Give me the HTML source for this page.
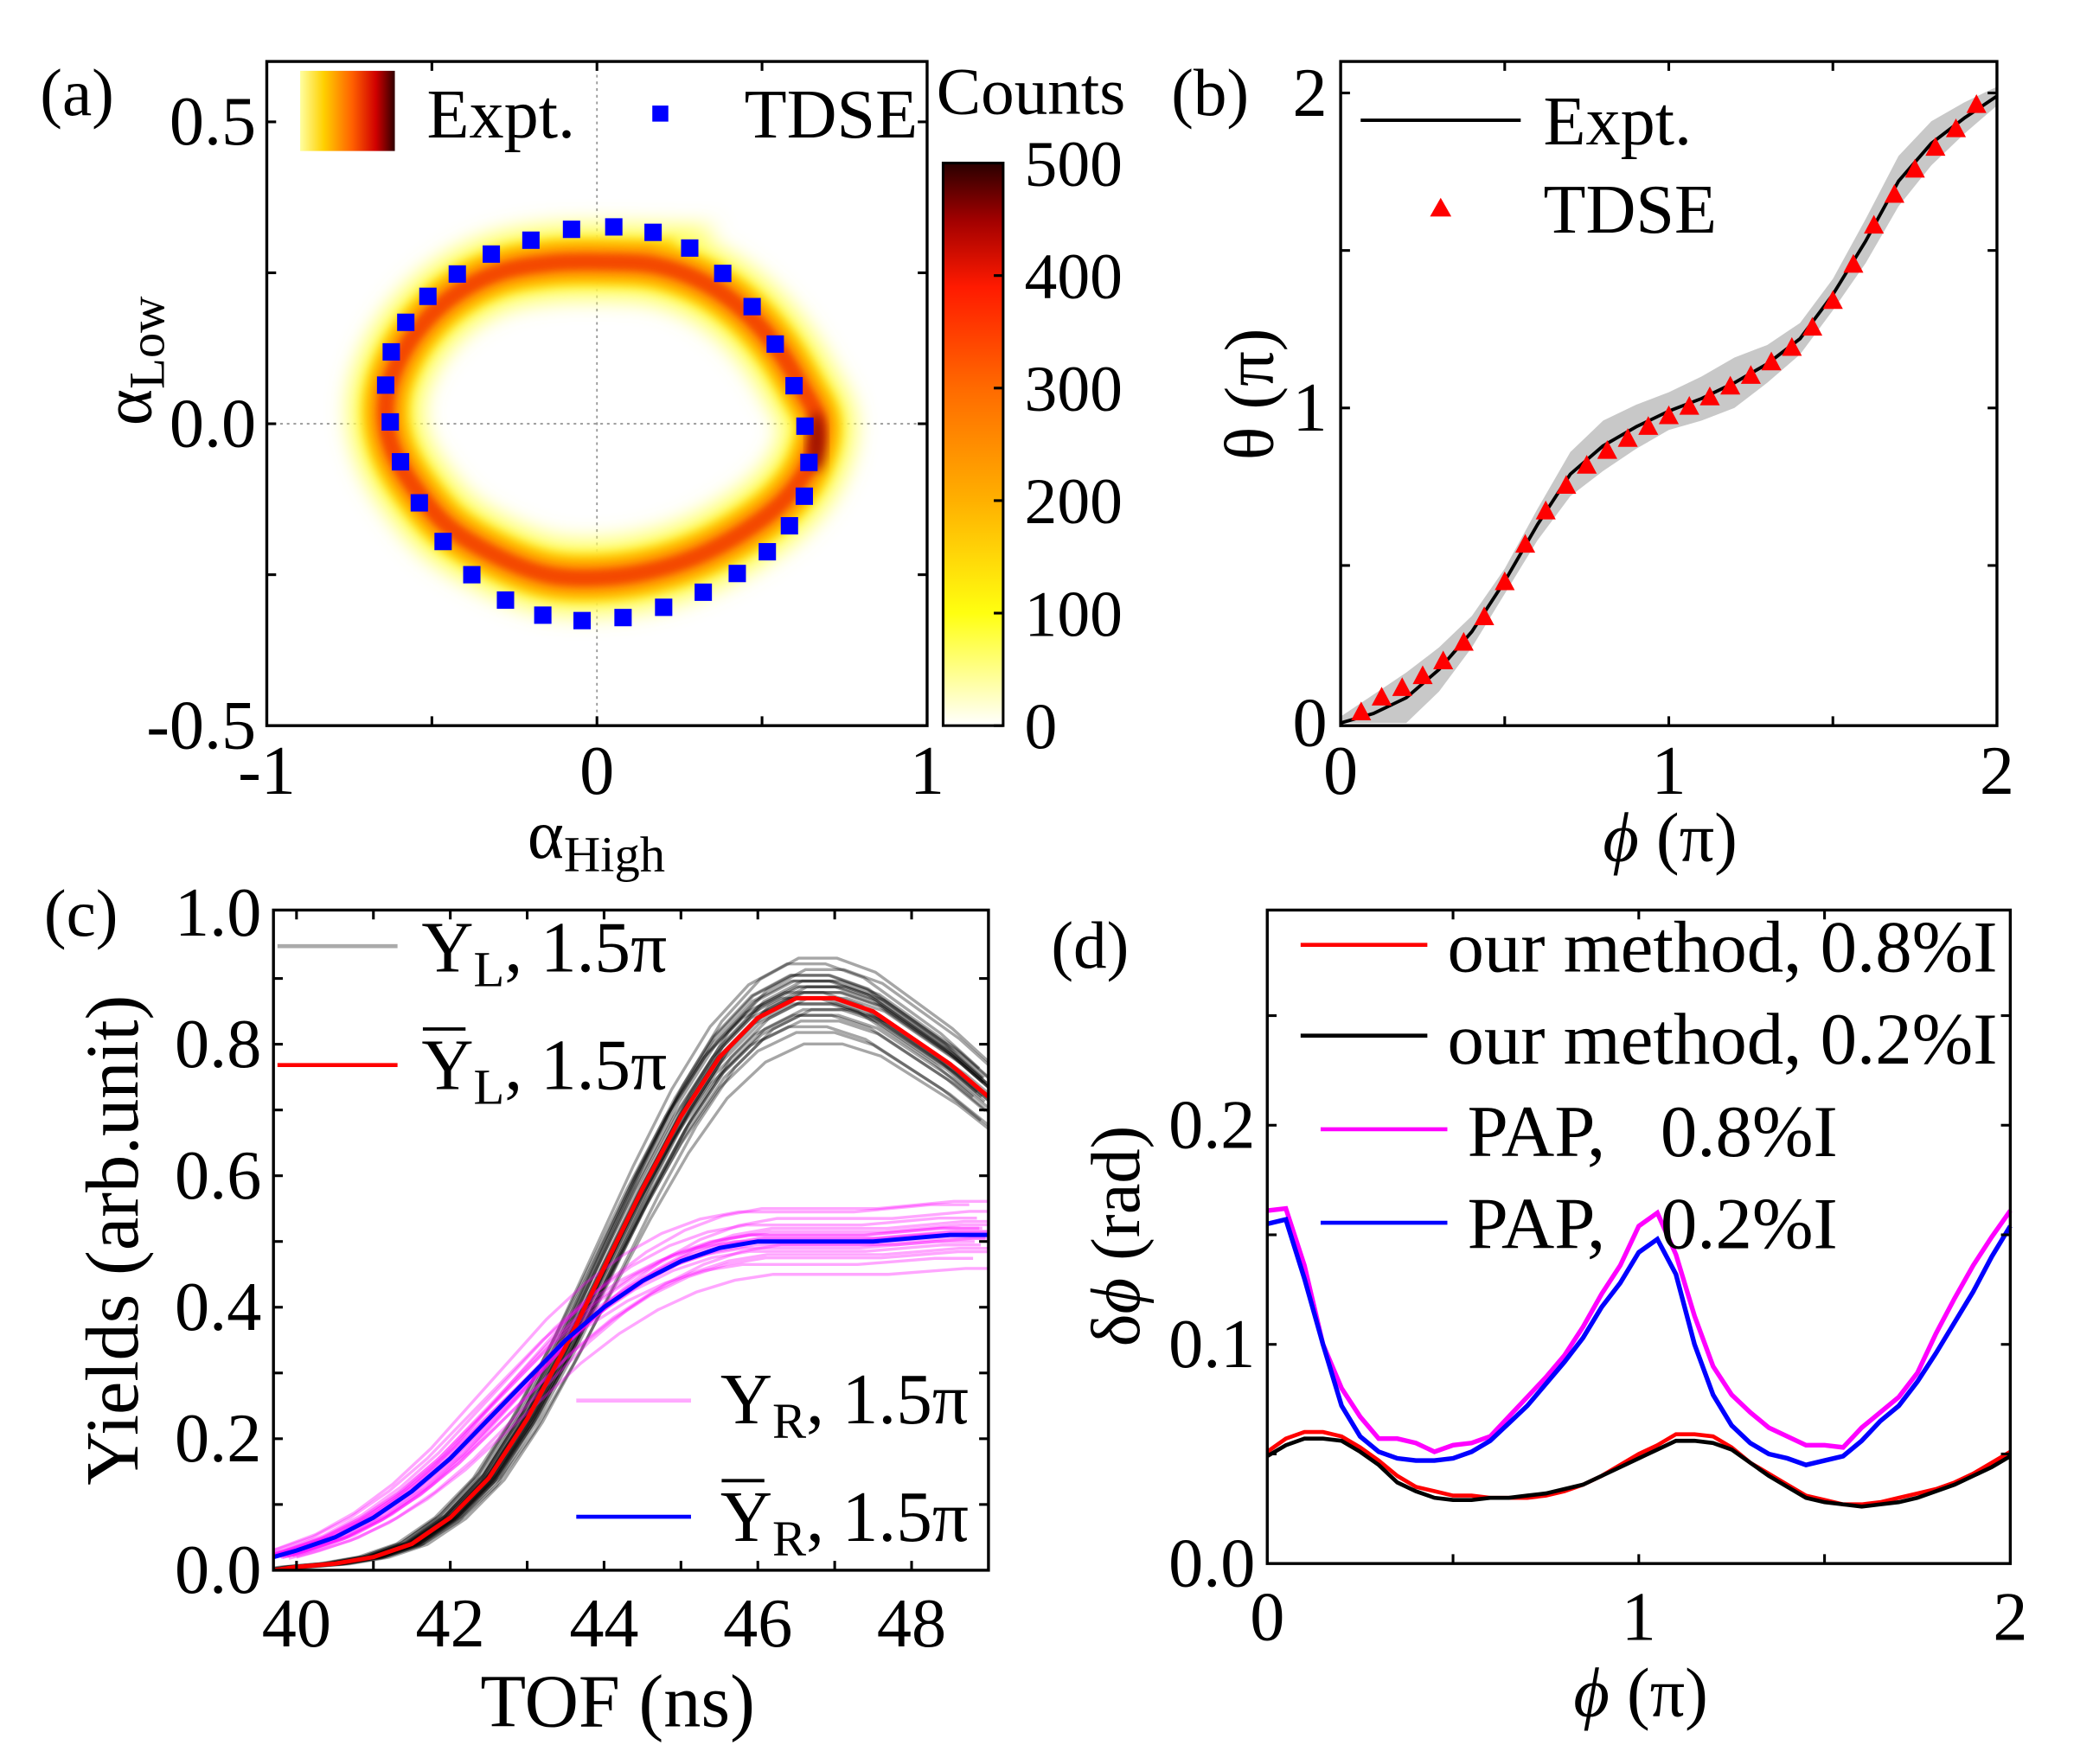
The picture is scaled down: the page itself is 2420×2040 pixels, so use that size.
<!DOCTYPE html>
<html><head><meta charset="utf-8">
<style>
html,body{margin:0;padding:0;background:#fff;}
svg{display:block;font-family:"Liberation Serif",serif;}
</style></head>
<body>
<svg id="fig" width="2420" height="2040" viewBox="0 0 1569 1320" preserveAspectRatio="none" xmlns="http://www.w3.org/2000/svg">
<defs>
<linearGradient id="cbar" x1="0" y1="1" x2="0" y2="0">
<stop offset="0" stop-color="#ffffff"/><stop offset="0.2" stop-color="#ffff10"/><stop offset="0.4" stop-color="#ffb000"/><stop offset="0.6" stop-color="#ff6a00"/><stop offset="0.78" stop-color="#ff1a00"/><stop offset="0.9" stop-color="#a00000"/><stop offset="1" stop-color="#2a0000"/>
</linearGradient>
<linearGradient id="lgrad" x1="0" y1="0" x2="1" y2="0">
<stop offset="0" stop-color="#ffffa0"/><stop offset="0.25" stop-color="#ffd000"/><stop offset="0.55" stop-color="#ff6000"/><stop offset="0.8" stop-color="#d00000"/><stop offset="1" stop-color="#300000"/>
</linearGradient>
<filter id="blur8" x="-20%" y="-20%" width="140%" height="140%"><feGaussianBlur stdDeviation="8"/></filter>
<filter id="blur4" x="-20%" y="-20%" width="140%" height="140%"><feGaussianBlur stdDeviation="4"/></filter>
<filter id="blur2" x="-20%" y="-20%" width="140%" height="140%"><feGaussianBlur stdDeviation="2.5"/></filter>
<clipPath id="clipA"><rect x="200" y="46" width="495" height="497"/></clipPath>
<clipPath id="clipC"><rect x="205" y="681" width="536" height="494"/></clipPath>
</defs>
</svg>
<script>
// ---------- data ----------
const tdseAX=[0.051,0.170,0.281,0.381,0.470,0.540,0.597,0.630,0.642,0.628,0.583,0.516,0.425,0.322,0.202,0.079,-0.045,-0.164,-0.277,-0.379,-0.466,-0.538,-0.595,-0.626,-0.640,-0.623,-0.579,-0.512,-0.423,-0.320,-0.200,-0.077];
const tdseAY=[0.326,0.317,0.291,0.249,0.194,0.132,0.063,-0.004,-0.064,-0.120,-0.169,-0.212,-0.248,-0.279,-0.304,-0.321,-0.326,-0.317,-0.292,-0.250,-0.195,-0.131,-0.063,0.003,0.064,0.119,0.168,0.211,0.248,0.281,0.304,0.322];
const ringX=[0.03,0.18,0.32,0.44,0.54,0.62,0.67,0.64,0.56,0.44,0.30,0.15,0.0,-0.15,-0.30,-0.45,-0.56,-0.62,-0.64,-0.62,-0.55,-0.44,-0.30,-0.14];
const ringY=[0.268,0.262,0.235,0.19,0.13,0.06,0.0,-0.07,-0.13,-0.18,-0.22,-0.245,-0.255,-0.25,-0.22,-0.17,-0.10,-0.04,0.02,0.08,0.15,0.21,0.25,0.266];
const cbarTicks=[0,100,200,300,400,500];
// (b)
const phiB=[0.0625,0.125,0.1875,0.25,0.3125,0.375,0.4375,0.5,0.5625,0.625,0.6875,0.75,0.8125,0.875,0.9375,1.0,1.0625,1.125,1.1875,1.25,1.3125,1.375,1.4375,1.5,1.5625,1.625,1.6875,1.75,1.8125,1.875,1.9375];
const thetaTDSE=[0.034,0.081,0.111,0.149,0.196,0.255,0.336,0.447,0.566,0.672,0.753,0.817,0.864,0.902,0.940,0.974,1.004,1.034,1.068,1.102,1.145,1.191,1.255,1.340,1.455,1.579,1.677,1.757,1.826,1.885,1.962];
const phiExp=[0,0.1,0.2,0.3,0.4,0.5,0.6,0.7,0.8,0.9,1.0,1.1,1.2,1.3,1.4,1.5,1.6,1.7,1.8,1.9,2.0];
const thetaExp=[0.0,0.03,0.08,0.17,0.29,0.45,0.63,0.79,0.88,0.94,0.99,1.03,1.08,1.14,1.22,1.36,1.53,1.72,1.84,1.92,1.99];
const bandExp=[0.02,0.06,0.08,0.07,0.05,0.04,0.05,0.07,0.08,0.07,0.06,0.07,0.08,0.06,0.05,0.05,0.07,0.08,0.07,0.05,0.03];
// (c)
const tof=[39.7,40,40.5,41,41.5,42,42.5,43,43.5,44,44.5,45,45.5,46,46.5,47,47.5,48,48.5,49];
const yL=[0.0,0.005,0.01,0.02,0.04,0.08,0.14,0.23,0.34,0.46,0.58,0.69,0.78,0.84,0.87,0.87,0.85,0.81,0.77,0.72];
const yR=[0.02,0.03,0.05,0.08,0.12,0.17,0.23,0.29,0.35,0.40,0.44,0.47,0.49,0.50,0.50,0.50,0.50,0.505,0.51,0.51];
const grayScale=[0.92,0.95,0.97,0.99,1.0,1.01,1.02,1.03,1.04,1.05,1.06,1.07,0.98,1.0,1.03,0.96,1.01,1.04,0.94,1.02,0.99,1.0,1.02,0.97,1.01,1.03,0.98,1.0];
const grayShift=[0.1,-0.1,0.05,-0.05,0.15,-0.15,0.0,0.08,-0.08,0.12,-0.12,0.03,0.2,-0.2,-0.03,0.06,0.1,-0.06,0.0,0.14,0.02,-0.02,0.04,-0.04,0.07,-0.07,0.09,-0.09];
const pinkScale=[0.9,0.93,0.95,0.97,0.99,1.0,1.01,1.03,1.05,1.07,1.09,1.1,0.96,1.02,1.04,0.98,1.0,0.99,1.01,1.02];
const pinkShift=[0.2,-0.2,0.1,-0.1,0.3,-0.3,0.0,0.15,-0.15,0.25,-0.25,0.05,0.12,-0.08,0.18,-0.18,0.04,-0.04,0.08,-0.12];
// (d)
const phiD=[0,0.05,0.1,0.15,0.2,0.25,0.3,0.35,0.4,0.45,0.5,0.55,0.6,0.65,0.7,0.75,0.8,0.85,0.9,0.95,1.0,1.05,1.1,1.15,1.2,1.25,1.3,1.35,1.4,1.45,1.5,1.55,1.6,1.65,1.7,1.75,1.8,1.85,1.9,1.95,2.0];
const papHigh=[0.161,0.162,0.136,0.100,0.080,0.067,0.057,0.057,0.055,0.051,0.054,0.055,0.058,0.067,0.076,0.085,0.095,0.108,0.123,0.136,0.154,0.160,0.141,0.113,0.090,0.077,0.069,0.062,0.058,0.054,0.054,0.053,0.062,0.069,0.076,0.087,0.105,0.121,0.136,0.149,0.161];
const papLow=[0.155,0.157,0.130,0.100,0.072,0.058,0.051,0.048,0.047,0.047,0.048,0.051,0.056,0.064,0.072,0.082,0.092,0.103,0.117,0.128,0.142,0.148,0.132,0.100,0.077,0.063,0.055,0.050,0.048,0.045,0.047,0.049,0.056,0.065,0.072,0.083,0.096,0.110,0.124,0.140,0.154];
const oursHigh=[0.051,0.057,0.060,0.060,0.058,0.053,0.047,0.040,0.035,0.033,0.031,0.031,0.030,0.030,0.030,0.031,0.033,0.036,0.040,0.045,0.050,0.054,0.059,0.059,0.058,0.053,0.046,0.041,0.036,0.031,0.029,0.027,0.027,0.028,0.030,0.032,0.034,0.037,0.041,0.046,0.051];
const oursLow=[0.049,0.054,0.057,0.057,0.056,0.051,0.045,0.037,0.033,0.030,0.029,0.029,0.030,0.030,0.031,0.032,0.034,0.036,0.040,0.044,0.048,0.052,0.056,0.056,0.055,0.052,0.046,0.040,0.035,0.030,0.028,0.027,0.026,0.027,0.028,0.030,0.033,0.036,0.040,0.044,0.049];

// ---------- helpers ----------
const NS="http://www.w3.org/2000/svg";
const svg=document.getElementById('fig');
function mk(tag,attrs,parent){const e=document.createElementNS(NS,tag);for(const k in attrs)e.setAttribute(k,attrs[k]);(parent||svg).appendChild(e);return e;}
function lin(d0,d1,p0,p1){return v=>p0+(v-d0)*(p1-p0)/(d1-d0);}
function txt(x,y,s,size,anchor,name,extra){const t=mk('text',Object.assign({x:x,y:y,'font-size':size,'text-anchor':anchor||'start',fill:'#000'},extra||{}));t.textContent=s;return t;}
function poly(xs,ys,fx,fy,attrs,name,parent){const d=xs.map((v,i)=>(i?'L':'M')+fx(v).toFixed(2)+','+fy(ys[i]).toFixed(2)).join('');const p=mk('path',Object.assign({d:d,fill:'none'},attrs),parent);return p;}
function frame(x0,y0,x1,y1,name){const r=mk('rect',{x:x0,y:y0,width:x1-x0,height:y1-y0,fill:'none',stroke:'#000','stroke-width':2.2});}
function ticksX(vals,fx,y0,y1,len){vals.forEach(v=>{const x=fx(v);const a=mk('line',{x1:x,x2:x,y1:y1,y2:y1-len,stroke:'#000','stroke-width':2});const b=mk('line',{x1:x,x2:x,y1:y0,y2:y0+len,stroke:'#000','stroke-width':2});});}
function ticksY(vals,fy,x0,x1,len){vals.forEach(v=>{const y=fy(v);const a=mk('line',{x1:x0,x2:x0+len,y1:y,y2:y,stroke:'#000','stroke-width':2});const b=mk('line',{x1:x1,x2:x1-len,y1:y,y2:y,stroke:'#000','stroke-width':2});});}
function smoothClosed(xs,ys,fx,fy){const n=xs.length;const P=xs.map((v,i)=>[fx(v),fy(ys[i])]);let d='M'+P[0][0]+','+P[0][1];for(let i=0;i<n;i++){const p0=P[(i-1+n)%n],p1=P[i],p2=P[(i+1)%n],p3=P[(i+2)%n];const c1=[p1[0]+(p2[0]-p0[0])/6,p1[1]+(p2[1]-p0[1])/6];const c2=[p2[0]-(p3[0]-p1[0])/6,p2[1]-(p3[1]-p1[1])/6];d+='C'+c1[0].toFixed(2)+','+c1[1].toFixed(2)+' '+c2[0].toFixed(2)+','+c2[1].toFixed(2)+' '+p2[0].toFixed(2)+','+p2[1].toFixed(2);}return d+'Z';}

const TK=52; // tick label size

// ---------- panel (a) ----------
const ax=lin(-1,1,200,695), ay=lin(-0.5,0.6,543,46);
const gA=mk('g',{'clip-path':'url(#clipA)'});

[[0,'v'],[0,'h']].forEach(([v,o])=>{const l=o==='v'?mk('line',{x1:ax(v),x2:ax(v),y1:46,y2:543,stroke:'#999','stroke-width':1.2,'stroke-dasharray':'2,3'},gA):mk('line',{x1:200,x2:695,y1:ay(v),y2:ay(v),stroke:'#999','stroke-width':1.2,'stroke-dasharray':'2,3'},gA);});
const ringD=smoothClosed(ringX,ringY,ax,ay);
[['#ffff60',56,'url(#blur8)',1,'ring-outer-glow'],['#ffd000',36,'url(#blur4)',1,'ring-yellow-orange'],['#ff8a00',24,'url(#blur4)',0.95,'ring-orange'],['#f03000',12,'url(#blur2)',0.75,'ring-red-core']].forEach(([c,w,f,o,n])=>{const p=mk('path',{d:ringD,fill:'none',stroke:c,'stroke-width':w,filter:f,opacity:o},gA);});
const hot=mk('ellipse',{cx:ax(0.665),cy:ay(-0.03),rx:7,ry:22,fill:'#800000',filter:'url(#blur4)',opacity:0.7},gA);

tdseAX.forEach((v,i)=>{const r=mk('rect',{x:ax(v)-6.5,y:ay(tdseAY[i])-6.5,width:13,height:13,fill:'#0000ff'},gA);});
frame(200,46,695,543,'panel-a-frame');
ticksX([-0.5,0,0.5],ax,46,543,7);ticksY([-0.25,0,0.25,0.5],ay,200,695,7);
[[0.5,'0.5'],[0,'0.0'],[-0.5,'-0.5']].forEach(([v,s])=>txt(192,ay(v)+17,s,TK,'end','y-tick-label-a'));
[[-1,'-1'],[0,'0'],[1,'1']].forEach(([v,s])=>txt(ax(v),594,s,TK,'middle','x-tick-label-a'));
txt(30,86,'(a)',50,'start','panel-a-label');
const ya=txt(0,0,'',52,'middle','y-axis-title-a',{transform:'translate(113,270) rotate(-90)'});
ya.innerHTML='α<tspan font-size="38" dy="10">Low</tspan>';
const xa=txt(447,642,'',52,'middle','x-axis-title-a');xa.innerHTML='α<tspan font-size="38" dy="10">High</tspan>';
const lg=mk('rect',{x:225,y:53,width:71,height:60,fill:'url(#lgrad)'});
txt(320,103,'Expt.',52,'start','legend-expt-label');
const ls=mk('rect',{x:489,y:79,width:12,height:12,fill:'#0000ff'});
txt(558,103,'TDSE',52,'start','legend-tdse-label');
txt(702,85,'Counts',50,'start','colorbar-title');
const cb=mk('rect',{x:707,y:122,width:45,height:421,fill:'url(#cbar)',stroke:'#000','stroke-width':2});
const cy=lin(0,500,543,122);
cbarTicks.forEach(v=>{const l=mk('line',{x1:745,x2:752,y1:cy(v),y2:cy(v),stroke:'#000','stroke-width':2});txt(768,cy(v)+17,String(v),49,'start','colorbar-tick-label');});

// ---------- panel (b) ----------
const bx=lin(0,2,1005,1497), by=lin(0,2.1,541,46);
let band='M'+phiExp.map((v,i)=>bx(v)+','+by(thetaExp[i]+bandExp[i])).join('L');
for(let i=phiExp.length-1;i>=0;i--)band+='L'+bx(phiExp[i])+','+by(Math.max(0,thetaExp[i]-bandExp[i]));
const bp=mk('path',{d:band+'Z',fill:'#c8c8c8',stroke:'none'});
poly(phiExp,thetaExp,bx,by,{stroke:'#000','stroke-width':2.5,'stroke-linejoin':'round'},'expt-line');
phiB.forEach((v,i)=>{const x=bx(v),y=by(thetaTDSE[i]);const t=mk('path',{d:`M${x},${y-8}L${x+7.5},${y+6}L${x-7.5},${y+6}Z`,fill:'#ff0000'});});
frame(1005,46,1497,543,'panel-b-frame');
ticksX([0.5,1,1.5],bx,46,543,7);ticksY([0.5,1,1.5,2],by,1005,1497,7);
[[2,'2'],[1,'1'],[0,'0']].forEach(([v,s])=>txt(995,by(v)+17,s,TK,'end','y-tick-label-b'));
[[0,'0'],[1,'1'],[2,'2']].forEach(([v,s])=>txt(bx(v),594,s,TK,'middle','x-tick-label-b'));
txt(878,86,'(b)',50,'start','panel-b-label');
const ybt=txt(0,0,'',52,'middle','y-axis-title-b',{transform:'translate(954,295) rotate(-90)'});ybt.textContent='θ (π)';
const xbt=txt(1252,644,'',52,'middle','x-axis-title-b');xbt.innerHTML='<tspan font-style="italic">ϕ</tspan> (π)';
const l1=mk('line',{x1:1020,x2:1140,y1:90,y2:90,stroke:'#000','stroke-width':2.5});
txt(1157,108,'Expt.',52,'start','legend-expt-label-b');
const lt=mk('path',{d:'M1080,148L1088,162L1072,162Z',fill:'#ff0000'});
txt(1157,174,'TDSE',52,'start','legend-tdse-label-b');

// ---------- panel (c) ----------
const cx=lin(39.7,49.0,205,741), cyy=lin(0,1,1175,683);
const gC=mk('g',{'clip-path':'url(#clipC)'});
grayScale.forEach((s,k)=>{poly(tof.map(t=>t+grayShift[k]),yL.map(v=>v*s),cx,cyy,{stroke:'#000','stroke-width':2.2,opacity:0.35},'yl-sample-trace',gC);});
pinkScale.forEach((s,k)=>{poly(tof.map(t=>t+pinkShift[k]),yR.map(v=>v*s),cx,cyy,{stroke:'#ff00ff','stroke-width':2.2,opacity:0.35},'yr-sample-trace',gC);});
poly(tof,yL,cx,cyy,{stroke:'#ff0000','stroke-width':3.2},'yl-mean-line',gC);
poly(tof,yR,cx,cyy,{stroke:'#0000ff','stroke-width':3.2},'yr-mean-line',gC);
frame(205,681,741,1175,'panel-c-frame');
ticksX([40,41,42,43,44,45,46,47,48],cx,681,1175,7);ticksY([0.1,0.2,0.3,0.4,0.5,0.6,0.7,0.8,0.9],cyy,205,741,7);
['0.0','0.2','0.4','0.6','0.8','1.0'].forEach((s,i)=>txt(196,cyy(i*0.2)+17,s,TK,'end','y-tick-label-c'));
[40,42,44,46,48].forEach(v=>txt(cx(v),1232,String(v),TK,'middle','x-tick-label-c'));
txt(463,1292,'TOF (ns)',56,'middle','x-axis-title-c');
txt(0,0,'Yields (arb.unit)',56,'middle','y-axis-title-c',{transform:'translate(103,928) rotate(-90)'});
txt(33,700,'(c)',50,'start','panel-c-label');
[[208,298,708,'#aaa','legend-yl-line'],[208,298,797,'#ff0000','legend-yl-mean-line'],[432,518,1048,'#ffaaff','legend-yr-line'],[432,518,1135,'#0000ff','legend-yr-mean-line']].forEach(([a,b,y,c,n])=>{const l=mk('line',{x1:a,x2:b,y1:y,y2:y,stroke:c,'stroke-width':3});});
const t1=txt(316,727,'',54,'start','legend-yl-label');t1.innerHTML='Y<tspan font-size="38" dy="11">L</tspan><tspan dy="-11">, 1.5π</tspan>';
const t2=txt(316,815,'',54,'start','legend-yl-mean-label');t2.innerHTML='Y<tspan font-size="38" dy="11">L</tspan><tspan dy="-11">, 1.5π</tspan>';
const ob1=mk('line',{x1:317,x2:349,y1:770,y2:770,stroke:'#000','stroke-width':2.5});
const t3=txt(540,1065,'',54,'start','legend-yr-label');t3.innerHTML='Y<tspan font-size="38" dy="11">R</tspan><tspan dy="-11">, 1.5π</tspan>';
const t4=txt(540,1153,'',54,'start','legend-yr-mean-label');t4.innerHTML='Y<tspan font-size="38" dy="11">R</tspan><tspan dy="-11">, 1.5π</tspan>';
const ob2=mk('line',{x1:541,x2:573,y1:1108,y2:1108,stroke:'#000','stroke-width':2.5});

// ---------- panel (d) ----------
const dx=lin(0,2,950,1507), dy=lin(0,0.3,1170,678);
poly(phiD,papHigh,dx,dy,{stroke:'#ff00ff','stroke-width':3.5},'pap-0.8-line');
poly(phiD,papLow,dx,dy,{stroke:'#0000ff','stroke-width':3.5},'pap-0.2-line');
poly(phiD,oursHigh,dx,dy,{stroke:'#ff0000','stroke-width':3},'our-method-0.8-line');
poly(phiD,oursLow,dx,dy,{stroke:'#000','stroke-width':3},'our-method-0.2-line');
frame(950,681,1507,1170,'panel-d-frame');
ticksX([0.5,1,1.5],dx,681,1170,7);ticksY([0.05,0.1,0.15,0.2,0.25],dy,950,1507,7);
['0.0','0.1','0.2'].forEach((s,i)=>txt(941,dy(i*0.1)+17,s,TK,'end','y-tick-label-d'));
[[0,'0'],[1,'1'],[2,'2']].forEach(([v,s])=>txt(dx(v),1227,s,TK,'middle','x-tick-label-d'));
const xdt=txt(1230,1284,'',52,'middle','x-axis-title-d');xdt.innerHTML='<tspan font-style="italic">ϕ</tspan> (π)';
const ydt=txt(0,0,'',52,'middle','y-axis-title-d',{transform:'translate(854,925) rotate(-90)'});ydt.innerHTML='δ<tspan font-style="italic">ϕ</tspan> (rad)';
txt(788,724,'(d)',50,'start','panel-d-label');
[[975,1070,707,'#ff0000','legend-our-0.8-line'],[975,1070,775,'#000','legend-our-0.2-line'],[990,1085,845,'#ff00ff','legend-pap-0.8-line'],[990,1085,915,'#0000ff','legend-pap-0.2-line']].forEach(([a,b,y,c,n])=>{const l=mk('line',{x1:a,x2:b,y1:y,y2:y,stroke:c,'stroke-width':3});});
txt(1085,727,'our method, 0.8%I',55,'start','legend-our-0.8-label');
txt(1085,796,'our method, 0.2%I',55,'start','legend-our-0.2-label');
txt(1100,865,'PAP,\u00a0\u00a0 0.8%I',55,'start','legend-pap-0.8-label');
txt(1100,934,'PAP,\u00a0\u00a0 0.2%I',55,'start','legend-pap-0.2-label');
</script>
</body></html>
